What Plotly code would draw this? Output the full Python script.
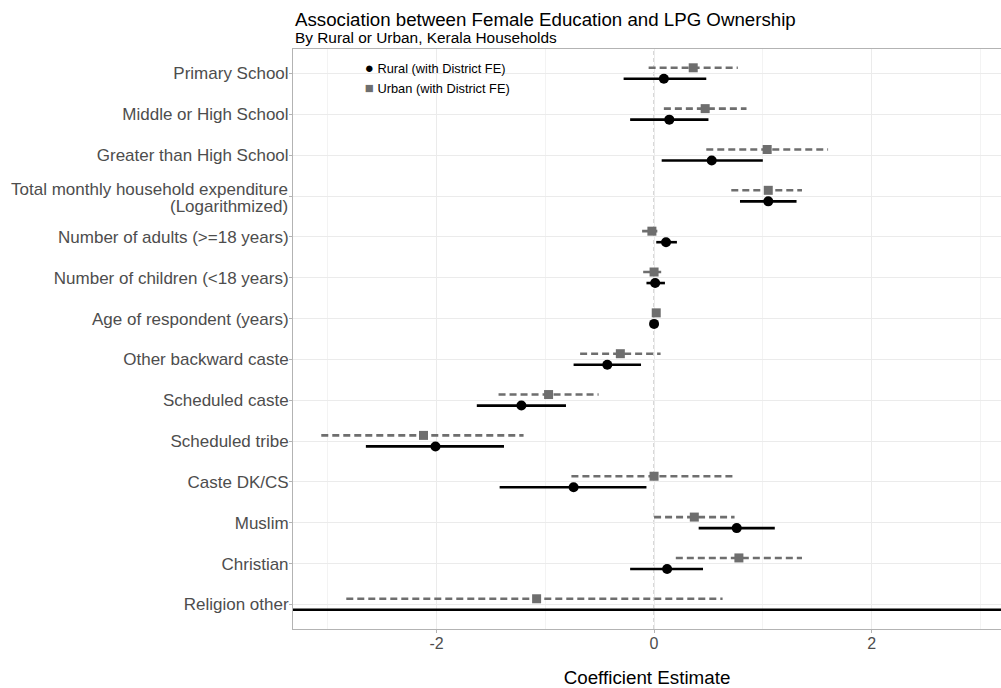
import plotly.graph_objects as go

categories = [
    "Primary School",
    "Middle or High School",
    "Greater than High School",
    "Total monthly household expenditure\n(Logarithmized)",
    "Number of adults (>=18 years)",
    "Number of children (<18 years)",
    "Age of respondent (years)",
    "Other backward caste",
    "Scheduled caste",
    "Scheduled tribe",
    "Caste DK/CS",
    "Muslim",
    "Christian",
    "Religion other",
]

rural_est = [0.09, 0.14, 0.53, 1.05, 0.11, 0.01, 0.00, -0.43, -1.22, -2.01, -0.74, 0.76, 0.12, -9.0]
rural_lo = [-0.28, -0.22, 0.07, 0.79, 0.02, -0.07, -0.01, -0.74, -1.63, -2.65, -1.42, 0.41, -0.22, -40.0]
rural_hi = [0.48, 0.50, 1.00, 1.31, 0.21, 0.10, 0.01, -0.12, -0.81, -1.38, -0.07, 1.11, 0.45, 22.0]

urban_est = [0.36, 0.47, 1.04, 1.05, -0.02, 0.00, 0.02, -0.31, -0.97, -2.12, 0.00, 0.37, 0.78, -1.08]
urban_lo = [-0.05, 0.09, 0.48, 0.71, -0.11, -0.10, 0.01, -0.68, -1.43, -3.06, -0.76, 0.00, 0.20, -2.83]
urban_hi = [0.77, 0.85, 1.60, 1.36, 0.03, 0.10, 0.03, 0.06, -0.51, -1.20, 0.75, 0.74, 1.36, 0.63]

x_ticks = [-2, 0, 2]

FONT = "Liberation Sans, Arial, sans-serif"
LABEL_GREY = "#4d4d4d"
URBAN_GREY = "#6e6e6e"
n = len(categories)
pos = list(range(1, n + 1))
urban_off = -0.14
rural_off = 0.13

fig = go.Figure()

# zero reference line
fig.add_vline(x=0, line=dict(color="#a6a6a6", width=1, dash="4px,3px"), layer="below")

# urban CIs
for i in range(n):
    y = pos[i] + urban_off
    fig.add_trace(go.Scatter(
        x=[urban_lo[i], urban_hi[i]], y=[y, y], mode="lines",
        line=dict(color=URBAN_GREY, width=2.6, dash="7px,4px"),
        showlegend=False, hoverinfo="skip"))
# rural CIs
for i in range(n):
    y = pos[i] + rural_off
    fig.add_trace(go.Scatter(
        x=[rural_lo[i], rural_hi[i]], y=[y, y], mode="lines",
        line=dict(color="#000000", width=2.6),
        showlegend=False, hoverinfo="skip"))

fig.add_trace(go.Scatter(
    x=urban_est, y=[p + urban_off for p in pos], mode="markers",
    marker=dict(symbol="square", size=9, color=URBAN_GREY),
    showlegend=False))
fig.add_trace(go.Scatter(
    x=rural_est, y=[p + rural_off for p in pos], mode="markers",
    marker=dict(symbol="circle", size=10, color="#000000"),
    showlegend=False))

# legend entries (symbol drawn as glyph so it sits right next to the text)
fig.add_trace(go.Scatter(
    x=[None], y=[None], mode="markers",
    name='<span style="color:#000000;font-size:15px">●</span> Rural (with District FE)',
    marker=dict(symbol="circle", size=1, color="rgba(0,0,0,0)")))
fig.add_trace(go.Scatter(
    x=[None], y=[None], mode="markers",
    name='<span style="color:%s;font-size:15px">■</span> Urban (with District FE)' % URBAN_GREY,
    marker=dict(symbol="square", size=1, color="rgba(0,0,0,0)")))

# y tick labels: single-line ones via the axis, multi-line one split into lines
ticktext = [c if "\n" not in c else "" for c in categories]
annotations = [
    dict(text="Association between Female Education and LPG Ownership",
         xref="paper", yref="paper", x=0, y=1, xanchor="left", yanchor="bottom",
         yshift=17, showarrow=False, font=dict(size=18.7, color="#000000", family=FONT)),
    dict(text="By Rural or Urban, Kerala Households",
         xref="paper", yref="paper", x=0, y=1, xanchor="left", yanchor="bottom",
         yshift=1, showarrow=False, font=dict(size=15.4, color="#000000", family=FONT)),
]
for i, c in enumerate(categories):
    if "\n" in c:
        lines = c.split("\n")
        for j, line in enumerate(lines):
            annotations.append(dict(
                text=line, xref="paper", yref="y", x=0, y=pos[i],
                xanchor="right", yanchor="middle", xshift=-3,
                yshift=6.5 - 17 * j, showarrow=False,
                font=dict(size=17, color=LABEL_GREY, family=FONT)))

fig.update_layout(
    width=1001, height=688,
    margin=dict(l=293, r=0, t=49, b=59),
    paper_bgcolor="white", plot_bgcolor="white",
    font=dict(family=FONT, color="#000000"),
    showlegend=True,
    legend=dict(x=0.045, y=0.992, xanchor="left", yanchor="top",
                bgcolor="rgba(255,255,255,0)", font=dict(size=12.8, color="#000000"),
                tracegroupgap=0, itemwidth=30, traceorder="normal"),
    annotations=annotations,
)

fig.update_xaxes(
    range=[-3.32, 3.19], tickvals=x_ticks, ticktext=[str(v) for v in x_ticks],
    showgrid=True, gridcolor="#ebebeb", gridwidth=1,
    minor=dict(dtick=1, tick0=1, showgrid=True, gridcolor="#f3f3f3", gridwidth=1),
    zeroline=False, showline=True, linecolor="#b3b3b3", linewidth=1, mirror=True,
    ticks="outside", ticklen=3, tickcolor="#b3b3b3",
    ticklabelstandoff=-3,
    tickfont=dict(size=16, color=LABEL_GREY, family=FONT),
    title=dict(text="Coefficient Estimate", font=dict(size=18.8, color="#000000", family=FONT), standoff=24),
)
fig.update_yaxes(
    range=[n + 0.6, 0.4], tickvals=pos, ticktext=ticktext,
    showgrid=True, gridcolor="#ebebeb", gridwidth=1,
    zeroline=False, showline=True, linecolor="#b3b3b3", linewidth=1, mirror=True,
    ticks="outside", ticklen=3, tickcolor="#b3b3b3",
    ticklabelstandoff=-3,
    tickfont=dict(size=17, color=LABEL_GREY, family=FONT),
)

fig.write_html("out.html")
